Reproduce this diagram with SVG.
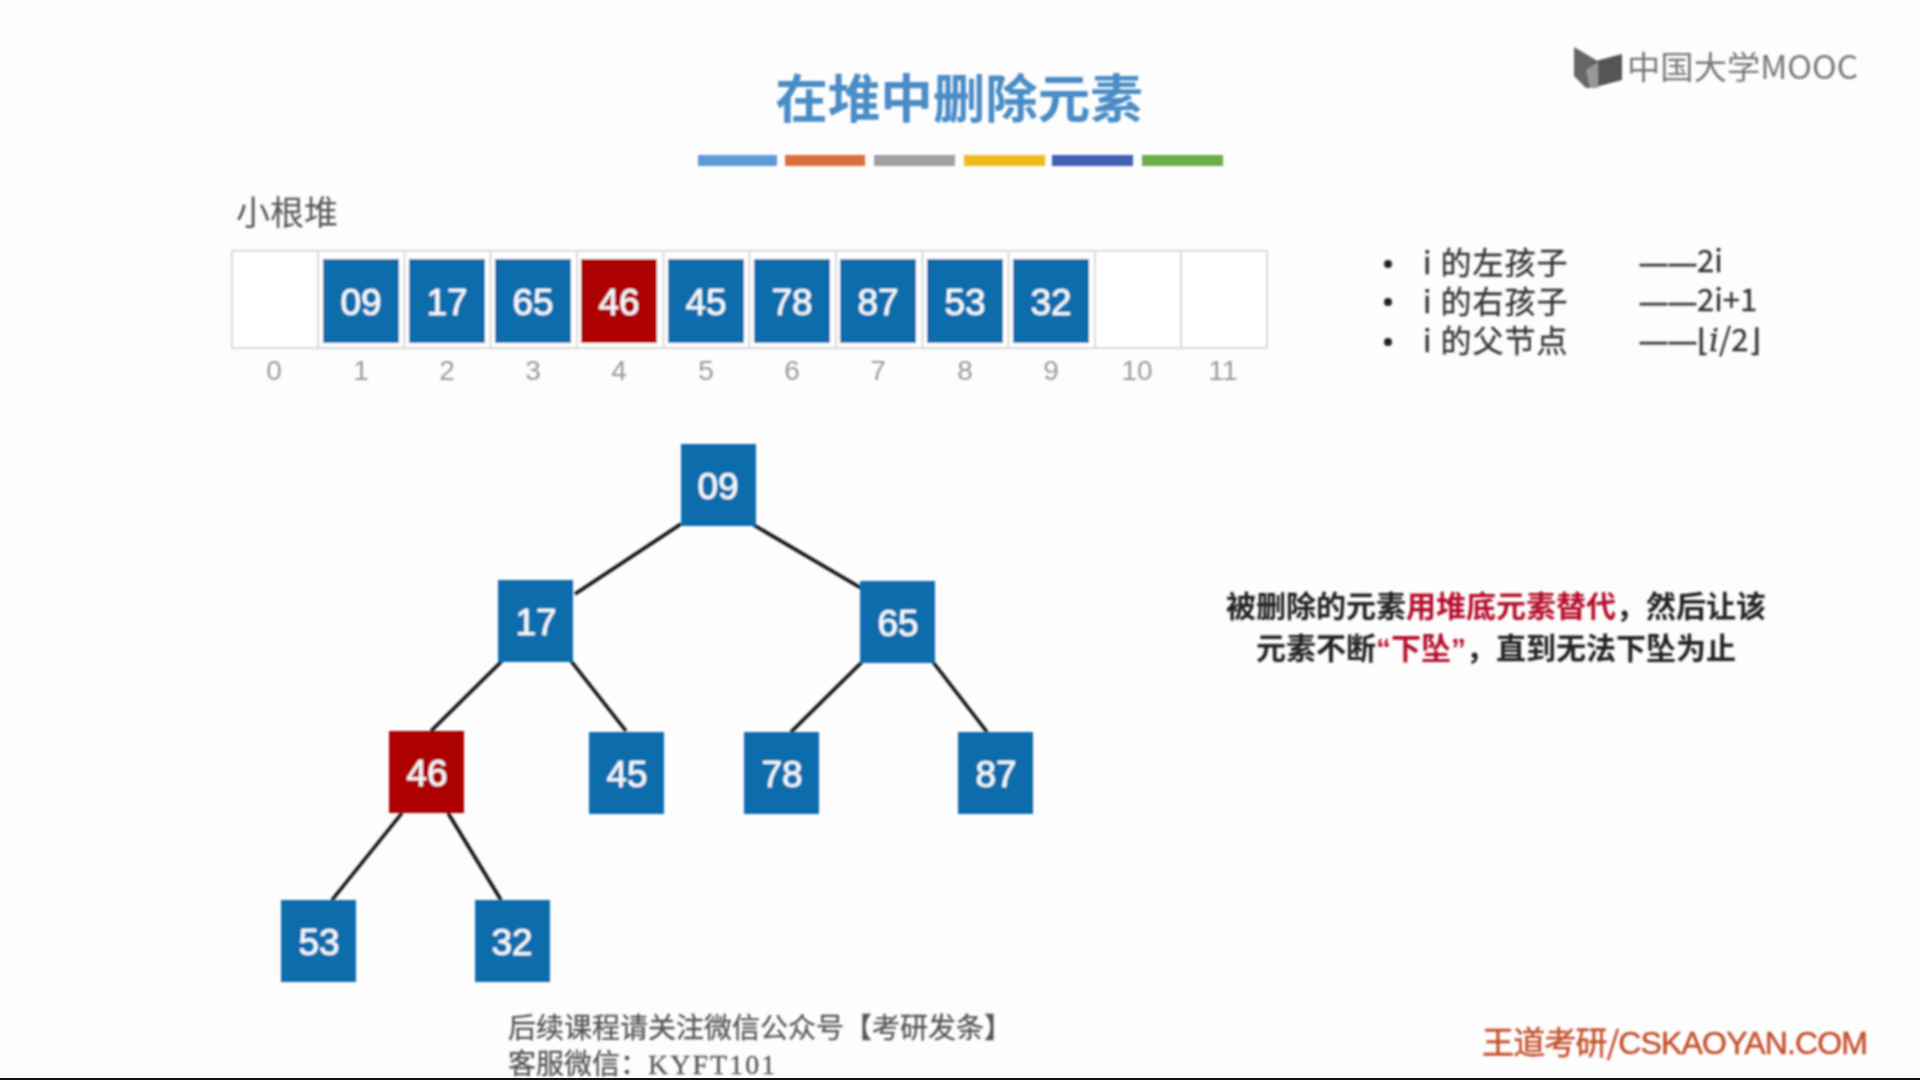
<svg xmlns="http://www.w3.org/2000/svg" width="1920" height="1080" viewBox="0 0 1920 1080">
<defs>
<filter id="soft" x="-5%" y="-5%" width="110%" height="110%"><feGaussianBlur stdDeviation="0.9"/></filter>
</defs>
<style>
text{font-family:"Noto Sans CJK SC","Liberation Sans",sans-serif}
.num{font-family:"Liberation Sans",sans-serif;font-size:37px;fill:#f4fbff;stroke:#f4fbff;stroke-width:0.5;text-anchor:middle}
.idx{font-family:"Liberation Sans",sans-serif;font-size:28px;fill:#9a9a9a;text-anchor:middle}
.b{fill:#0f6cab}.r{fill:#ad0000}
.cell{fill:#fff;stroke:#d9d9d9;stroke-width:2}
.edge{stroke:#111;stroke-width:3.500;fill:none}
.li{font-size:31px;fill:#333;letter-spacing:1px;stroke:#333;stroke-width:.3}
.val{font-size:31px;fill:#333;stroke:#333;stroke-width:.3}
.dash{font-family:"Liberation Sans",sans-serif;font-size:27px;fill:#333;stroke:#333;stroke-width:.8}
.msg{font-size:30px;font-weight:700;fill:#222;text-anchor:middle}
.hl{fill:#b5102a}
.foot{font-size:28px;fill:#555;stroke:#555;stroke-width:.3}
</style>
<rect width="1920" height="1080" fill="#fdfdfe"/>
<g filter="url(#soft)">
<text id="title" x="959" y="118" text-anchor="middle" font-size="52.500" font-weight="700" fill="#4a8cc6">在堆中删除元素</text>
<g id="title-bars">
<rect x="698" y="155" width="79" height="11" fill="#5b9bd5"/>
<rect x="785" y="155" width="80" height="11" fill="#d9703a"/>
<rect x="874" y="155" width="81" height="11" fill="#a0a0a0"/>
<rect x="964" y="155" width="81" height="11" fill="#f0b91c"/>
<rect x="1052" y="155" width="81" height="11" fill="#3f5fb5"/>
<rect x="1142" y="155" width="81" height="11" fill="#6cac4a"/>
</g>
<g id="logo">
<polygon points="1574,47 1596,60 1596,78 1592,88 1586,88 1574,76" fill="#666"/>
<polygon points="1592,62 1622,54 1622,80 1592,88" fill="#555"/>
<polygon points="1586,70 1598,62 1598,88 1590,88" fill="#999"/>
<text x="1627" y="79" font-size="32" fill="#777" font-family="Noto Sans CJK SC" textLength="231" lengthAdjust="spacingAndGlyphs">中国大学MOOC</text>
</g>
<text id="heap-label" x="236" y="225" font-size="34" fill="#555">小根堆</text>
<g id="array-cells">
<rect class="cell" x="232" y="251" width="1035" height="97"/>
<path d="M318 251V348M404.500 251V348M490.500 251V348M577 251V348M663.500 251V348M749.500 251V348M836 251V348M922.500 251V348M1008.500 251V348M1095 251V348M1181 251V348" stroke="#d9d9d9" stroke-width="2" fill="none"/>
</g>
<g id="arr-1"><rect class="b" x="323" y="259" width="76" height="84"/><text class="num" x="361" y="315">09</text></g>
<g id="arr-2"><rect class="b" x="409" y="259" width="76" height="84"/><text class="num" x="447" y="315">17</text></g>
<g id="arr-3"><rect class="b" x="495" y="259" width="76" height="84"/><text class="num" x="533" y="315">65</text></g>
<g id="arr-4"><rect class="r" x="581" y="259" width="76" height="84"/><text class="num" x="619" y="315">46</text></g>
<g id="arr-5"><rect class="b" x="668" y="259" width="76" height="84"/><text class="num" x="706" y="315">45</text></g>
<g id="arr-6"><rect class="b" x="754" y="259" width="76" height="84"/><text class="num" x="792" y="315">78</text></g>
<g id="arr-7"><rect class="b" x="840" y="259" width="76" height="84"/><text class="num" x="878" y="315">87</text></g>
<g id="arr-8"><rect class="b" x="927" y="259" width="76" height="84"/><text class="num" x="965" y="315">53</text></g>
<g id="arr-9"><rect class="b" x="1013" y="259" width="76" height="84"/><text class="num" x="1051" y="315">32</text></g>
<g id="indices">
<text class="idx" x="274" y="380">0</text><text class="idx" x="361" y="380">1</text><text class="idx" x="447" y="380">2</text><text class="idx" x="533" y="380">3</text><text class="idx" x="619" y="380">4</text><text class="idx" x="706" y="380">5</text><text class="idx" x="792" y="380">6</text><text class="idx" x="878" y="380">7</text><text class="idx" x="965" y="380">8</text><text class="idx" x="1051" y="380">9</text><text class="idx" x="1137" y="380">10</text><text class="idx" x="1223" y="380">11</text>
</g>
<g id="formulas">
<circle cx="1388" cy="264" r="4" fill="#222"/><circle cx="1388" cy="302" r="4" fill="#222"/><circle cx="1388" cy="342" r="4" fill="#222"/>
<text class="li" x="1423" y="274">i 的左孩子</text><text class="li" x="1423" y="313">i 的右孩子</text><text class="li" x="1423" y="352">i 的父节点</text>
<text class="dash" x="1640" y="272">&#x2014;</text><text class="dash" x="1669" y="272">&#x2014;</text><text class="val" x="1697" y="272">2i</text>
<text class="dash" x="1640" y="311">&#x2014;</text><text class="dash" x="1669" y="311">&#x2014;</text><text class="val" x="1697" y="311">2i+1</text>
<text class="dash" x="1640" y="350">&#x2014;</text><text class="dash" x="1669" y="350">&#x2014;</text><text class="val" x="1697" y="351" font-size="33"><tspan font-family="DejaVu Sans">&#x230A;</tspan><tspan font-style="italic" font-family="DejaVu Serif">i</tspan>/2<tspan font-family="DejaVu Sans">&#x230B;</tspan></text>
</g>
<g id="connectors">
<line class="edge" x1="681" y1="524" x2="575" y2="594"/>
<line class="edge" x1="752" y1="524" x2="861" y2="588"/>
<line class="edge" x1="502" y1="661" x2="431" y2="731"/>
<line class="edge" x1="571" y1="661" x2="626" y2="731"/>
<line class="edge" x1="862" y1="662" x2="791" y2="732"/>
<line class="edge" x1="933" y1="662" x2="987" y2="732"/>
<line class="edge" x1="402" y1="813" x2="332" y2="900"/>
<line class="edge" x1="448" y1="813" x2="501" y2="900"/>
</g>
<g id="node-09"><rect class="b" x="681" y="444" width="75" height="82"/><text class="num" x="718" y="499">09</text></g>
<g id="node-17"><rect class="b" x="498" y="580" width="75" height="82"/><text class="num" x="536" y="635">17</text></g>
<g id="node-65"><rect class="b" x="860" y="581" width="75" height="82"/><text class="num" x="898" y="636">65</text></g>
<g id="node-46"><rect class="r" x="389" y="731" width="75" height="82"/><text class="num" x="427" y="786">46</text></g>
<g id="node-45"><rect class="b" x="589" y="732" width="75" height="82"/><text class="num" x="627" y="787">45</text></g>
<g id="node-78"><rect class="b" x="744" y="732" width="75" height="82"/><text class="num" x="782" y="787">78</text></g>
<g id="node-87"><rect class="b" x="958" y="732" width="75" height="82"/><text class="num" x="996" y="787">87</text></g>
<g id="node-53"><rect class="b" x="281" y="900" width="75" height="82"/><text class="num" x="319" y="955">53</text></g>
<g id="node-32"><rect class="b" x="475" y="900" width="75" height="82"/><text class="num" x="512" y="955">32</text></g>
<g id="note">
<text class="msg" x="1496" y="617">被删除的元素<tspan class="hl">用堆底元素替代</tspan>&#xFF0C;然后让该</text>
<text class="msg" x="1496" y="659">元素不断<tspan class="hl" font-family="Liberation Sans">&#x201C;</tspan><tspan class="hl">下坠</tspan><tspan class="hl" font-family="Liberation Sans">&#x201D;</tspan>&#xFF0C;直到无法下坠为止</text>
</g>
<g id="footer">
<text class="foot" x="508" y="1038">后续课程请关注微信公众号【考研发条】</text>
<text class="foot" x="508" y="1074">客服微信&#xFF1A;<tspan font-family="Liberation Serif" letter-spacing="2">KYFT101</tspan></text>
<text x="1482" y="1054" font-size="32" fill="#c4512c" stroke="#c4512c" stroke-width=".5" textLength="386">王道考研/<tspan font-family="Liberation Sans">CSKAOYAN.COM</tspan></text>
</g>
</g>
<rect id="bottom-rule" x="0" y="1078" width="1920" height="2" fill="#111"/>
</svg>
